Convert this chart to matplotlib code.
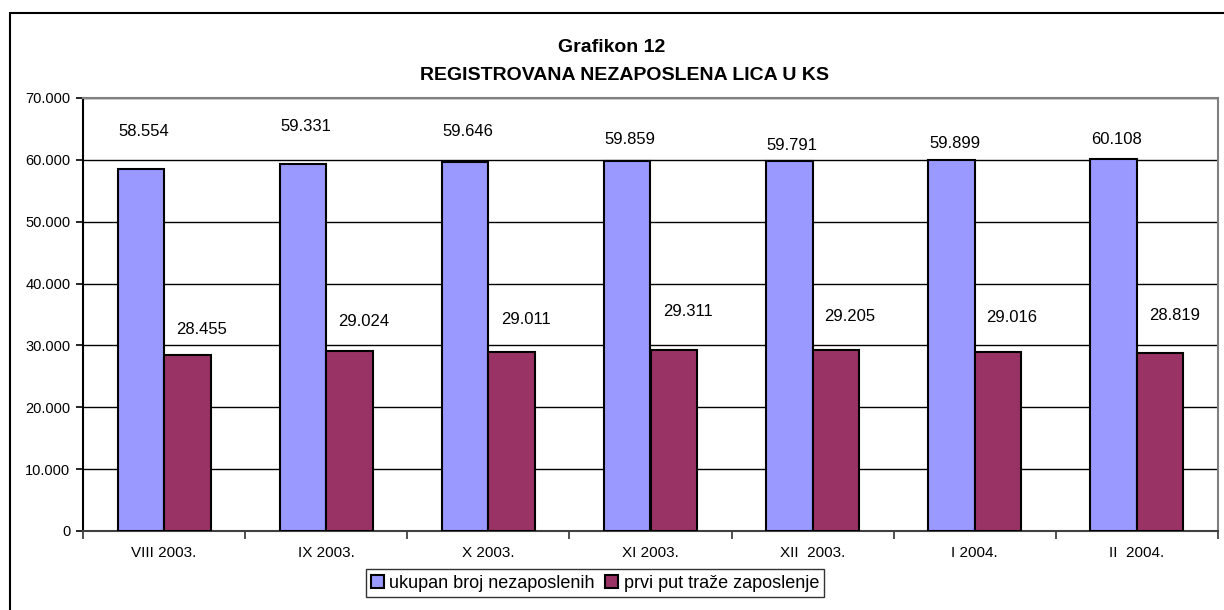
import matplotlib.pyplot as plt
import matplotlib.patches as mpatches
import numpy as np

plt.rcParams['font.family'] = ['Liberation Sans', 'DejaVu Sans']

# Podaci
mjeseci = ['VIII 2003.', 'IX 2003.', 'X 2003.', 'XI 2003.', 'XII  2003.', 'I 2004.', 'II  2004.']
ukupno = [58554, 59331, 59646, 59859, 59791, 59899, 60108]
prvi_put = [28455, 29024, 29011, 29311, 29205, 29016, 28819]
naziv_ukupno = 'ukupan broj nezaposlenih'
naziv_prvi = 'prvi put traže zaposlenje'

# pomaci oznaka iznad stubova (pikseli)
pomak_ukupno = [37, 37, 31, 21, 16, 17, 20]
pomak_prvi = [25, 30, 32, 38, 34, 34, 37]

def fmt(v):
    return f'{v:,}'.replace(',', '.')

fig = plt.figure(figsize=(12.24, 6.10), dpi=100)
ax = fig.add_axes([83/1224, 1-531/610, (1218-83)/1224, (531-98)/610])

# okvir oko cijelog grafikona
fig.patches.append(mpatches.Rectangle((10/1224, -0.05), 1.2, 1-13/610+0.05,
                                      transform=fig.transFigure, fill=False,
                                      edgecolor='black', linewidth=1.5))

x = np.arange(len(mjeseci))
w = 0.287
b1 = ax.bar(x - w/2, ukupno, w, color='#9999FF', edgecolor='black', linewidth=1.5,
            label=naziv_ukupno, zorder=3)
b2 = ax.bar(x + w/2, prvi_put, w, color='#993366', edgecolor='black', linewidth=1.5,
            label=naziv_prvi, zorder=3)

for i in range(len(x)):
    ax.annotate(fmt(ukupno[i]), (x[i] - w/2, ukupno[i]), xytext=(3, pomak_ukupno[i]),
                textcoords='offset pixels', ha='center', va='center', fontsize=12)
    ax.annotate(fmt(prvi_put[i]), (x[i] + w/2, prvi_put[i]), xytext=(14, pomak_prvi[i]),
                textcoords='offset pixels', ha='center', va='center', fontsize=12)

ax.set_xlim(-0.5, len(x) - 0.5)
ax.set_ylim(0, 70000)
ax.set_yticks(np.arange(0, 70001, 10000))
ax.set_yticklabels([fmt(v) for v in range(0, 70001, 10000)], fontsize=10.5)
ax.yaxis.grid(True, color='black', linewidth=1, zorder=0)
ax.set_axisbelow(True)

ax.set_xticks(x)
ax.set_xticklabels(mjeseci, fontsize=11)
ax.tick_params(axis='x', length=0, pad=11)
ax.set_xticks(np.arange(-0.5, len(x), 1), minor=True)
ax.tick_params(axis='x', which='minor', length=6, width=1.2, direction='out', color='#333333')
ax.tick_params(axis='y', length=5, width=1.2, direction='out', pad=4)

for s in ['top', 'right']:
    ax.spines[s].set_color('#808080')
    ax.spines[s].set_linewidth(1.5)
ax.spines['left'].set_color('black')
ax.spines['left'].set_linewidth(1.5)
ax.spines['bottom'].set_color('#404040')
ax.spines['bottom'].set_linewidth(1.5)

fig.text(612/1224, 1-48/610, 'Grafikon 12', ha='center', va='center', fontsize=14, fontweight='bold')
fig.text(625/1224, 1-75/610, 'REGISTROVANA NEZAPOSLENA LICA U KS', ha='center', va='center',
         fontsize=14, fontweight='bold')

leg = fig.legend(handles=[b1, b2], loc='center', bbox_to_anchor=(595/1224, 1-583/610),
                 ncol=2, fontsize=13, frameon=True, fancybox=False, edgecolor='black',
                 handlelength=0.7, handleheight=0.7, handletextpad=0.3, columnspacing=0.6,
                 borderpad=0.3, borderaxespad=0)
leg.get_frame().set_linewidth(1)

fig.savefig('out.png', dpi=100)
